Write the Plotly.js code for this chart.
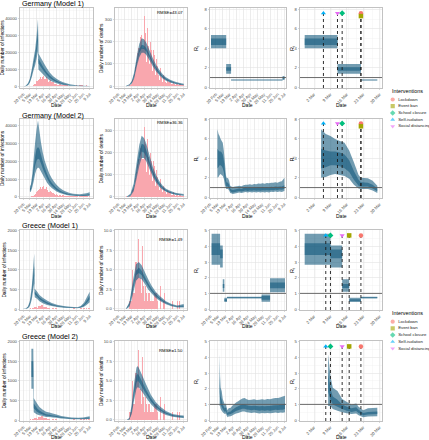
<!DOCTYPE html>
<html><head><meta charset="utf-8">
<script src="https://cdn.plot.ly/plotly-3.0.1.min.js"></script>
<style>html,body{margin:0;padding:0;background:#fff}#chart{width:429px;height:440px}</style>
</head><body><div id="chart"></div>
<script>
// ---------------- DATA ----------------
const longTickDates = ['2020-02-20','2020-03-05','2020-03-19','2020-04-02','2020-04-16','2020-04-30','2020-05-14','2020-05-28','2020-06-11','2020-06-25','2020-07-09'];
const longTickLabels = ['20 Feb','5 Mar','19 Mar','2 Apr','16 Apr','30 Apr','14 May','28 May','11 Jun','25 Jun','9 Jul'];
const shortTickDates = ['2020-03-02','2020-03-09','2020-03-16','2020-03-23','2020-03-30'];
const shortTickLabels = ['2 Mar','9 Mar','16 Mar','23 Mar','30 Mar'];

const rowTitles = ['Germany (Model 1)','Germany (Model 2)','Greece (Model 1)','Greece (Model 2)'];
const rmseLabels = ['RMSE=43.07','RMSE=36.36','RMSE=1.49','RMSE=1.50'];

const interventions = ['Lockdown','Event ban','School closure','Self-isolation','Social distancing'];
const deInterventionDates = ['2020-03-22','2020-03-22','2020-03-14','2020-03-06','2020-03-12'];
const grInterventionDates = ['2020-03-22','2020-03-17','2020-03-09','2020-03-07','2020-03-14'];

// observed daily cases / deaths
const deCasesStart = '2020-03-01';
const deCases = [60,40,50,80,110,150,200,250,180,300,
 400,600,800,900,1100,1300,1500,1800,2900,3500,
 3200,3400,4000,4800,4500,5000,5800,6200,4400,4500,5500,
 6100,6200,6300,5900,4400,3800,4300,5200,5400,5300,
 4100,3100,2600,2200,3000,3600,3500,3300,2500,1800,
 1900,2300,2400,2300,1900,1400,1100,1300,1600,1500,
 1600,1000,800,700,700,1100,1300,1200,1200,700,
 600,900,900,800,900,600,580,340,510,790,
 710,460,640,430,290,430,360,350,740,400,290,
 280,210,340,240,400,500,300,200,300,350,
 500,550,400,200,200,350,500,600,800,700,
 600,500,500,600,600,450,400,300,300,450,
 400,500,450,400,300,200,300,400,450];
const deDeathsStart = '2020-03-09';
const deDeaths = [2,0,1,3,1,2,4,4,5,10,12,20,
 30,18,28,34,49,55,60,85,45,110,130,
 150,145,170,170,170,180,200,220,250,230,
 280,170,130,170,310,315,250,240,180,110,
 190,280,260,220,180,140,100,200,200,150,
 160,90,70,60,160,160,140,110,100,50,
 60,120,110,90,80,50,40,30,80,80,
 70,40,40,30,20,40,50,30,40,30,20,
 10,15,30,30,25,20,10,8,20,25,
 20,15,10,5,10,15,20,15,10,5,
 5,10,15,10,10,8,5,5,10,10,
 10,8,5,5,3,5,8,5,5];
const grCasesStart = '2020-02-26';
const grCases = [1,2,0,1,
 0,0,3,0,2,37,0,6,7,16,
 10,18,27,38,62,10,55,31,46,77,
 34,94,71,48,74,71,78,75,95,64,102,
 54,49,60,129,62,20,62,56,43,25,
 20,19,15,9,22,20,12,51,13,21,
 156,16,10,22,13,11,15,17,13,15,
 12,10,8,6,10,6,12,9,12,6,
 5,16,10,9,13,10,4,14,3,8,
 9,7,3,6,11,6,10,10,9,12,8,
 6,14,6,9,14,7,20,5,10,5,
 6,15,10,12,4,2,9,7,14,33,
 97,27,13,10,23,20,11,24,9,5,
 14,14,15,8,17,14,20,52,30];
const grDeathsStart = '2020-03-12';
const grDeaths = [1,0,2,1,0,1,1,1,1,
 5,2,2,2,4,2,3,6,6,6,4,
 5,6,9,5,4,6,3,4,6,2,
 3,8,3,3,6,1,3,3,5,2,
 2,5,1,1,2,4,2,2,1,4,
 1,2,1,0,1,4,2,1,0,2,
 1,2,0,1,2,0,2,0,1,3,
 1,0,2,1,0,1,1,0,2,1,0,
 1,0,1,0,2,0,1,0,0,1,
 0,1,0,0,1,0,0,1,0,1,
 0,0,1,0,0,1,0,0,0,1,
 0,0,1,0,0,0,1,0,0];

// modelled series: [date, lo95, lo50, hi50, hi95]
const deM1Inf = [
 ['2020-02-20',0,0,20,60],['2020-02-25',80,150,250,380],['2020-03-01',700,1000,1400,1900],
 ['2020-03-05',2300,3000,3800,4800],['2020-03-09',5500,7000,8500,10500],['2020-03-12',9000,11000,13000,15500],
 ['2020-03-16',12500,15500,18500,22000],['2020-03-19',16500,20500,25000,30000],['2020-03-22',21000,27000,33000,40000],
 ['2020-03-23',10000,13500,16500,19500],['2020-03-28',8500,11500,14000,17000],['2020-04-02',7000,9500,11500,14500],
 ['2020-04-09',5000,7000,8500,11000],['2020-04-16',3500,5000,6300,8000],['2020-04-23',2500,3600,4600,6000],
 ['2020-04-30',1800,2600,3300,4500],['2020-05-07',1200,1800,2400,3300],['2020-05-14',800,1300,1700,2400],
 ['2020-05-28',400,600,850,1300],['2020-06-11',150,280,400,700],['2020-06-25',60,120,200,350],['2020-07-09',20,50,90,170]];
const deM1Deaths = [
 ['2020-03-08',0,0,1,2],['2020-03-15',3,5,7,9],['2020-03-20',12,16,20,25],['2020-03-25',35,44,52,62],
 ['2020-03-31',90,105,120,140],['2020-04-05',130,150,165,190],['2020-04-10',150,168,185,215],
 ['2020-04-15',150,166,182,210],['2020-04-20',140,155,170,195],['2020-04-27',115,128,140,160],
 ['2020-05-04',88,100,110,125],['2020-05-11',66,75,83,95],['2020-05-18',48,55,62,72],['2020-05-25',35,40,46,54],
 ['2020-06-01',25,29,34,40],['2020-06-11',16,19,23,28],['2020-06-21',10,13,16,20],['2020-07-01',6,8,11,14],['2020-07-09',4,6,8,11]];
// step Rt: [start, end, lo95, lo50, hi50, hi95]
const deM1Rt = [
 ['2020-02-10','2020-03-12',4.0,4.33,5.0,5.35],
 ['2020-03-12','2020-03-22',1.4,1.7,2.05,2.4],
 ['2020-03-22','2020-07-05',0.7,0.72,0.78,0.8],
 ['2020-07-05','2020-07-09',0.75,0.85,1.05,1.15]];

const deM2Inf = [
 ['2020-03-05',2600,3500,4800,6000],['2020-03-07',3000,4000,5500,7000],['2020-03-10',5500,7500,10000,13000],
 ['2020-03-13',9000,12500,16500,22000],['2020-03-16',13000,17500,23000,31000],['2020-03-19',15500,20500,27000,38000],
 ['2020-03-22',16500,21500,28000,43000],['2020-03-25',16000,21000,27000,37000],['2020-03-28',14500,19000,24000,31000],
 ['2020-04-01',12500,16000,20000,25000],['2020-04-05',10500,13500,16500,20500],['2020-04-10',8000,10500,13000,16500],
 ['2020-04-15',6300,8000,10000,13000],['2020-04-20',5000,6300,8000,10500],['2020-04-25',4000,5000,6400,8500],
 ['2020-04-30',3100,3900,5000,6800],['2020-05-07',2200,2800,3600,5000],['2020-05-14',1600,2100,2700,3700],
 ['2020-05-21',1150,1550,2050,2900],['2020-05-28',850,1150,1550,2250],['2020-06-04',650,900,1250,1850],
 ['2020-06-11',520,740,1050,1650],['2020-06-18',470,680,980,1550],['2020-06-25',470,680,1030,1750],
 ['2020-07-02',520,780,1200,2100],['2020-07-09',600,900,1450,2700]];
const deM2Deaths = [
 ['2020-03-10',0,0,1,3],['2020-03-17',3,6,9,14],['2020-03-24',25,35,45,60],['2020-03-31',90,115,135,165],
 ['2020-04-05',140,170,200,235],['2020-04-10',175,205,240,275],['2020-04-15',175,200,235,265],
 ['2020-04-20',160,180,210,240],['2020-04-27',125,140,160,185],['2020-05-04',90,102,117,135],
 ['2020-05-11',64,73,84,98],['2020-05-18',45,52,60,70],['2020-05-25',32,37,43,50],['2020-06-01',23,27,31,37],
 ['2020-06-11',15,18,21,26],['2020-06-21',10,12,15,19],['2020-07-01',7,9,11,15],['2020-07-09',5,7,9,13]];
const deM2Rt = [
 ['2020-03-05',2.0,3.0,5.0,7.0],['2020-03-07',2.1,3.1,4.8,6.5],['2020-03-09',2.3,3.3,4.7,6.3],
 ['2020-03-11',2.4,3.3,4.7,6.0],['2020-03-13',2.3,3.2,4.6,5.8],['2020-03-15',2.2,3.0,4.4,5.6],
 ['2020-03-17',1.9,2.6,3.8,4.8],['2020-03-19',1.3,1.8,2.7,3.6],['2020-03-21',0.9,1.2,1.8,2.3],
 ['2020-03-22',0.85,1.1,1.55,2.0],['2020-03-25',0.85,1.1,1.5,1.95],['2020-03-27',0.7,0.9,1.3,1.7],
 ['2020-03-29',0.45,0.62,0.9,1.2],['2020-04-01',0.38,0.52,0.78,1.08],['2020-04-03',0.35,0.5,0.75,1.05],
 ['2020-04-07',0.4,0.55,0.8,1.1],['2020-04-11',0.45,0.6,0.85,1.15],['2020-04-15',0.5,0.65,0.9,1.2],
 ['2020-04-19',0.45,0.6,0.85,1.15],['2020-04-23',0.5,0.65,0.95,1.25],['2020-04-27',0.55,0.7,1.0,1.3],
 ['2020-05-01',0.5,0.65,0.95,1.3],['2020-05-05',0.55,0.7,1.0,1.35],['2020-05-09',0.5,0.68,0.98,1.3],
 ['2020-05-13',0.55,0.72,1.02,1.38],['2020-05-17',0.5,0.68,1.0,1.35],['2020-05-21',0.55,0.7,1.05,1.42],
 ['2020-05-25',0.5,0.68,1.0,1.4],['2020-05-29',0.55,0.72,1.05,1.45],['2020-06-02',0.5,0.7,1.0,1.4],
 ['2020-06-06',0.55,0.72,1.05,1.48],['2020-06-10',0.5,0.7,1.0,1.45],['2020-06-14',0.58,0.75,1.08,1.5],
 ['2020-06-18',0.55,0.72,1.05,1.5],['2020-06-22',0.6,0.78,1.1,1.55],['2020-06-26',0.55,0.75,1.08,1.5],
 ['2020-06-30',0.6,0.8,1.12,1.6],['2020-07-04',0.55,0.78,1.1,1.65],['2020-07-09',0.65,0.85,1.25,2.0]];

const grM1Inf = [
 ['2020-02-20',0,0,2,5],['2020-02-25',3,6,10,15],['2020-03-01',20,35,50,70],['2020-03-05',80,120,160,220],
 ['2020-03-09',250,350,450,600],['2020-03-12',500,650,850,1100],['2020-03-14',650,850,1100,1420],
 ['2020-03-15',300,380,450,520],['2020-03-20',260,320,380,450],['2020-03-25',200,250,300,360],
 ['2020-04-01',150,190,235,290],['2020-04-10',105,135,170,215],['2020-04-20',75,95,120,155],
 ['2020-05-01',52,68,86,112],['2020-05-15',35,46,60,80],['2020-05-29',25,33,43,58],['2020-06-13',18,24,32,44],
 ['2020-06-20',30,42,58,80],['2020-06-27',60,85,115,160],['2020-07-03',110,160,220,300],['2020-07-09',170,250,340,440]];
const grM1Deaths = [
 ['2020-03-08',0,0,0.05,0.1],['2020-03-15',0.3,0.5,0.7,0.9],['2020-03-22',1.8,2.4,2.9,3.5],
 ['2020-03-29',3.6,4.3,4.9,5.7],['2020-04-04',4.0,4.6,5.3,6.0],['2020-04-10',3.8,4.3,4.9,5.6],
 ['2020-04-17',3.2,3.6,4.1,4.7],['2020-04-24',2.5,2.9,3.3,3.8],['2020-05-01',2.0,2.3,2.6,3.0],
 ['2020-05-10',1.45,1.65,1.9,2.2],['2020-05-20',1.0,1.15,1.35,1.6],['2020-06-01',0.6,0.72,0.85,1.0],
 ['2020-06-13',0.35,0.43,0.52,0.65],['2020-06-25',0.2,0.27,0.35,0.45],['2020-07-09',0.2,0.3,0.45,0.65]];
const grM1Rt = [
 ['2020-02-22','2020-03-09',2.83,3.45,4.2,4.8],
 ['2020-03-09','2020-03-14',2.65,3.25,3.8,4.05],
 ['2020-03-14','2020-03-17',1.1,1.35,1.6,1.9],
 ['2020-03-17','2020-03-22',0.45,0.52,0.63,0.72],
 ['2020-03-22','2020-05-26',0.68,0.71,0.76,0.79],
 ['2020-05-26','2020-06-11',0.47,0.6,0.83,0.93],
 ['2020-06-11','2020-07-09',1.07,1.33,1.7,1.97]];

const grM2Inf = [
 ['2020-03-08',800,1100,1500,1820],['2020-03-12',800,1100,1500,1820],['2020-03-13',200,300,420,560],
 ['2020-03-16',170,260,370,500],['2020-03-20',140,210,300,420],['2020-03-25',120,170,240,330],
 ['2020-04-01',100,140,190,260],['2020-04-08',80,110,150,210],['2020-04-15',75,100,135,190],
 ['2020-04-22',65,88,118,165],['2020-04-30',55,75,100,140],['2020-05-10',40,56,76,105],
 ['2020-05-20',32,44,60,85],['2020-06-01',22,32,45,65],['2020-06-15',18,26,38,55],
 ['2020-06-25',20,30,44,65],['2020-07-09',28,42,62,95]];
const grM2Deaths = [
 ['2020-03-10',0,0,0,0.05],['2020-03-15',0.05,0.1,0.2,0.3],['2020-03-20',0.8,1.2,1.6,2.1],
 ['2020-03-25',2.6,3.3,4.0,4.8],['2020-03-30',4.0,4.8,5.7,6.7],['2020-04-02',4.2,5.0,5.9,6.9],
 ['2020-04-06',4.0,4.7,5.5,6.4],['2020-04-12',3.5,4.1,4.8,5.6],['2020-04-20',2.8,3.3,3.8,4.5],
 ['2020-04-30',2.0,2.35,2.75,3.2],['2020-05-10',1.4,1.65,1.95,2.3],['2020-05-20',1.0,1.2,1.4,1.7],
 ['2020-06-01',0.65,0.8,0.95,1.15],['2020-06-15',0.42,0.52,0.63,0.78],['2020-07-01',0.3,0.38,0.48,0.6],
 ['2020-07-09',0.25,0.33,0.43,0.56]];
const grM2Rt = [
 ['2020-03-08',0.9,1.8,3.0,4.2],['2020-03-09',0.9,1.3,2.0,2.8],['2020-03-10',0.7,1.0,1.5,2.06],
 ['2020-03-12',0.6,0.85,1.3,1.85],['2020-03-14',0.5,0.7,1.0,1.35],['2020-03-16',0.43,0.6,0.85,1.15],
 ['2020-03-18',0.38,0.52,0.75,1.0],['2020-03-20',0.42,0.58,0.82,1.06],['2020-03-21',0.3,0.45,0.65,0.85],
 ['2020-03-23',0.18,0.3,0.45,0.62],['2020-03-25',0.22,0.35,0.52,0.75],['2020-03-29',0.25,0.38,0.55,0.78],
 ['2020-03-31',0.28,0.42,0.62,0.88],['2020-04-04',0.35,0.5,0.72,1.0],['2020-04-08',0.42,0.58,0.82,1.12],
 ['2020-04-12',0.45,0.62,0.88,1.2],['2020-04-16',0.5,0.68,0.95,1.3],['2020-04-20',0.55,0.72,1.0,1.38],
 ['2020-04-24',0.55,0.72,1.0,1.4],['2020-04-28',0.5,0.68,0.95,1.32],['2020-05-02',0.48,0.65,0.92,1.28],
 ['2020-05-07',0.45,0.62,0.9,1.3],['2020-05-12',0.48,0.65,0.92,1.32],['2020-05-17',0.45,0.62,0.9,1.28],
 ['2020-05-22',0.42,0.6,0.88,1.3],['2020-05-27',0.45,0.62,0.9,1.32],['2020-06-01',0.43,0.6,0.88,1.3],
 ['2020-06-06',0.45,0.62,0.9,1.35],['2020-06-11',0.43,0.6,0.9,1.33],['2020-06-16',0.45,0.63,0.93,1.38],
 ['2020-06-21',0.48,0.65,0.95,1.4],['2020-06-26',0.45,0.64,0.94,1.4],['2020-07-01',0.48,0.66,0.98,1.45],
 ['2020-07-05',0.47,0.66,1.0,1.5],['2020-07-09',0.5,0.7,1.05,1.55]];

// ---------------- STYLE / LAYOUT ----------------
const W = 429, H = 440;
const colsPx = [[20,93],[115,187],[210,286],[300,382]];
const rowsPx = [[8,88],[119,198],[230,310],[341,421]];
const longRange = ['2020-02-13','2020-07-16'];
const rtLongRanges = [['2020-02-08','2020-07-12'],['2020-02-20','2020-07-12'],['2020-02-19','2020-07-11'],['2020-02-19','2020-07-11']];
const shortRange = ['2020-02-25','2020-03-31'];
const zoomWindow = ['2020-02-27','2020-03-29'];
const bandColor = 'rgba(20,90,125,0.6)';
const barColor = '#F9A7AE';
const intColors = ['#F8766D','#A3A500','#00BF7D','#00B0F6','#E76BF3'];
const intSymbols = ['circle','square','diamond','triangle-up','triangle-down'];
const FONT = 'Liberation Sans, Arial, sans-serif';

const px2x = p => p / W, px2y = p => 1 - p / H;
const DAY = 86400000;
function addDays(iso, n){ const d = new Date(iso + 'T00:00:00Z'); d.setUTCDate(d.getUTCDate() + n); return d.toISOString().slice(0,10); }

const rowCfg = [
 {inf:deM1Inf, deaths:deM1Deaths, rtSteps:deM1Rt, cases:deCases, casesStart:deCasesStart, obsDeaths:deDeaths, obsDeathsStart:deDeathsStart, ints:deInterventionDates,
  infY:[-1000,46500,10000,'d'], deY:[-8,350,100,'d'], rtY:[-0.07,8.13,2,'d'], markTop:7.6, markStep:0.3},
 {inf:deM2Inf, deaths:deM2Deaths, rtSeries:deM2Rt, cases:deCases, casesStart:deCasesStart, obsDeaths:deDeaths, obsDeathsStart:deDeathsStart, ints:deInterventionDates,
  infY:[-600,43800,10000,'d'], deY:[-5,351,100,'d'], rtY:[-0.07,8.05,2,'d'], markTop:7.6, markStep:0.3},
 {inf:grM1Inf, deaths:grM1Deaths, rtSteps:grM1Rt, cases:grCases, casesStart:grCasesStart, obsDeaths:grDeaths, obsDeathsStart:grDeathsStart, ints:grInterventionDates,
  infY:[-25,2017,500,'d'], deY:[-0.13,10.09,2.5,'.1f'], rtY:[-0.06,5.045,1,'d'], markTop:4.7, markStep:0.2},
 {inf:grM2Inf, deaths:grM2Deaths, rtSeries:grM2Rt, cases:grCases, casesStart:grCasesStart, obsDeaths:grDeaths, obsDeathsStart:grDeathsStart, ints:grInterventionDates,
  infY:[-25,2017,500,'d'], deY:[-0.13,10.09,2.5,'.1f'], rtY:[-0.06,5.045,1,'d'], markTop:4.7, markStep:0.2}
];

const baseAxis = {showgrid:true, gridcolor:'#e2e2e2', gridwidth:0.6, showline:true, mirror:true, linecolor:'#b3b3b3', linewidth:0.8,
  ticks:'outside', ticklen:1.5, tickwidth:0.5, tickcolor:'#b3b3b3', tickfont:{size:4.2, color:'#4d4d4d', family:FONT}, zeroline:false, fixedrange:true};

const traces = [], annotations = [], shapes = [];
const layout = {width:W, height:H, margin:{l:0,r:0,t:0,b:0}, paper_bgcolor:'#fff', plot_bgcolor:'#fff', showlegend:false, bargap:0,
  font:{family:FONT, size:5, color:'#1a1a1a'}, annotations, shapes};

const yTitles = ['Daily number of infections','Daily number of deaths','R<sub>t</sub>','R<sub>t</sub>'];

function sfx(n){ return n === 1 ? '' : String(n); }
function makeAxes(r, c, xo, yo){
  const n = r*4 + c + 1, s = sfx(n);
  layout['xaxis'+s] = Object.assign({}, baseAxis, {domain:[px2x(colsPx[c][0]), px2x(colsPx[c][1])], anchor:'y'+s}, xo);
  layout['yaxis'+s] = Object.assign({}, baseAxis, {domain:[px2y(rowsPx[r][1]), px2y(rowsPx[r][0])], anchor:'x'+s}, yo);
  if (c === 0) layout['yaxis'+s].title = {text:yTitles[0], font:{size:4.8, color:'#000', family:FONT}, standoff:0};
  return ['x'+s, 'y'+s];
}
function xLong(range){ return {type:'date', range:range, tickmode:'array', tickvals:longTickDates, ticktext:longTickLabels, tickangle:-45,
  minor:{tick0:'2020-02-13', dtick:7*DAY, showgrid:true, gridcolor:'#efefef', gridwidth:0.4, ticks:''}}; }
function xShort(){ return {type:'date', range:shortRange, tickmode:'array', tickvals:shortTickDates, ticktext:shortTickLabels, tickangle:-45,
  minor:{tick0:'2020-02-24 12:00', dtick:3.5*DAY, showgrid:true, gridcolor:'#efefef', gridwidth:0.4, ticks:''}}; }
function yAx(spec){ return {range:[spec[0], spec[1]], tickmode:'linear', tick0:0, dtick:spec[2], tickformat:spec[3],
  minor:{tick0:0, dtick:spec[2]/2, showgrid:true, gridcolor:'#efefef', gridwidth:0.4, ticks:''}}; }

function bars(start, vals, xa, ya){
  return {type:'bar', x:vals.map((_,i)=>addDays(start,i)), y:vals, width:DAY, marker:{color:barColor, line:{width:0}}, hoverinfo:'skip', xaxis:xa, yaxis:ya};
}
function ribbon(tuples, xa, ya, wide){
  const d = tuples.map(t=>t[0]);
  const lo = tuples.map(t=>wide ? t[1] : t[2]);
  const hi = tuples.map(t=>wide ? t[4] : t[3]);
  return {type:'scatter', mode:'none', x:d.concat(d.slice().reverse()), y:hi.concat(lo.slice().reverse()),
    fill:'toself', fillcolor:bandColor, hoverinfo:'skip', xaxis:xa, yaxis:ya};
}
function stepRibbon(segs, xa, ya, wide, win){
  const x = [], y = [];
  segs.forEach(s=>{
    let a = s[0], b = s[1];
    if (win){ if (b <= win[0] || a >= win[1]) return; if (a < win[0]) a = win[0]; if (b > win[1]) b = win[1]; }
    const lo = wide ? s[2] : s[3], hi = wide ? s[5] : s[4];
    x.push(a,b,b,a,a,null); y.push(hi,hi,lo,lo,hi,null);
  });
  return {type:'scatter', mode:'none', x:x, y:y, fill:'toself', fillcolor:bandColor, hoverinfo:'skip', xaxis:xa, yaxis:ya};
}
function inWindow(tuples, win){ return tuples.filter(t=>t[0] >= win[0] && t[0] <= win[1]); }
function hline(xa, ya){
  shapes.push({type:'line', xref:xa+' domain', x0:0, x1:1, yref:ya, y0:1, y1:1, line:{color:'#5a5a5a', width:0.9}, layer:'above'});
}
function ann(text, xpx, ypx, size, opts){
  annotations.push(Object.assign({text:text, x:px2x(xpx), y:px2y(ypx), xref:'paper', yref:'paper', showarrow:false,
    xanchor:'center', yanchor:'middle', font:{size:size, color:'#000', family:FONT}}, opts||{}));
}

const titleY = [4, 115, 225.7, 336.7];
const dateY = [105, 215.5, 326, 436.5];
const rmseY = [13, 122, 240, 350];
const yTitleX = [6, 101, 196, 292];

rowCfg.forEach((cfg, r)=>{
  let [xa, ya] = makeAxes(r, 0, xLong(longRange), yAx(cfg.infY));
  traces.push(bars(cfg.casesStart, cfg.cases, xa, ya));
  traces.push(ribbon(cfg.inf, xa, ya, true), ribbon(cfg.inf, xa, ya, false));
  [xa, ya] = makeAxes(r, 1, xLong(longRange), yAx(cfg.deY));
  traces.push(bars(cfg.obsDeathsStart, cfg.obsDeaths, xa, ya));
  traces.push(ribbon(cfg.deaths, xa, ya, true), ribbon(cfg.deaths, xa, ya, false));
  [xa, ya] = makeAxes(r, 2, xLong(rtLongRanges[r]), yAx(cfg.rtY));
  if (cfg.rtSteps) traces.push(stepRibbon(cfg.rtSteps, xa, ya, true), stepRibbon(cfg.rtSteps, xa, ya, false));
  else traces.push(ribbon(cfg.rtSeries, xa, ya, true), ribbon(cfg.rtSeries, xa, ya, false));
  hline(xa, ya);
  [xa, ya] = makeAxes(r, 3, xShort(), yAx(cfg.rtY));
  if (cfg.rtSteps) traces.push(stepRibbon(cfg.rtSteps, xa, ya, true, zoomWindow), stepRibbon(cfg.rtSteps, xa, ya, false, zoomWindow));
  else { const sub = inWindow(cfg.rtSeries, zoomWindow); traces.push(ribbon(sub, xa, ya, true), ribbon(sub, xa, ya, false)); }
  hline(xa, ya);
  const markY = cfg.ints.map((d,i)=> cfg.markTop - cfg.markStep * cfg.ints.slice(0,i).filter(e=>e===d).length);
  const lx = [], ly = [];
  cfg.ints.forEach((d,i)=>{ lx.push(d,d,null); ly.push(cfg.rtY[0], markY[i], null); });
  traces.push({type:'scatter', mode:'lines', x:lx, y:ly, line:{color:'#1a1a1a', width:0.9, dash:'dot'}, hoverinfo:'skip', xaxis:xa, yaxis:ya});
  traces.push({type:'scatter', mode:'markers', x:cfg.ints, y:markY, marker:{color:intColors, symbol:intSymbols, size:4.5, line:{width:0}}, hoverinfo:'skip', xaxis:xa, yaxis:ya});

  ann(rowTitles[r], 20, titleY[r], 7.2, {xanchor:'left'});
  ann(rmseLabels[r], 185, rmseY[r], 4.3, {xanchor:'right'});
  for (let c=0;c<4;c++){
    ann('Date', (colsPx[c][0]+colsPx[c][1])/2, dateY[r], 5);
    if (c > 0) ann(yTitles[c], yTitleX[c], (rowsPx[r][0]+rowsPx[r][1])/2, c>=2 ? 5.5 : 4.8, {textangle:-90});
  }
});

function legendBlock(axisNum, titlePx, firstItemPx){
  const s = String(axisNum), spacing = 6.7, topPx = firstItemPx - 4, botPx = firstItemPx + spacing*4 + 4;
  layout['xaxis'+s] = {domain:[px2x(388), 1], range:[-(392.7-388), W-392.7], visible:false, fixedrange:true, anchor:'y'+s};
  layout['yaxis'+s] = {domain:[px2y(botPx), px2y(topPx)], range:[(botPx-firstItemPx)/spacing, -(firstItemPx-topPx)/spacing], visible:false, fixedrange:true, anchor:'x'+s};
  const idx = interventions.map((_,i)=>i);
  traces.push({type:'scatter', mode:'markers', x:idx.map(()=>0), y:idx, marker:{color:intColors, symbol:intSymbols, size:4.2, opacity:0.6, line:{width:0}}, hoverinfo:'skip', xaxis:'x'+s, yaxis:'y'+s});
  traces.push({type:'scatter', mode:'text', x:idx.map(()=>5.5), y:idx, text:interventions, textposition:'middle right', textfont:{size:4.3, color:'#1a1a1a', family:FONT}, hoverinfo:'skip', xaxis:'x'+s, yaxis:'y'+s});
  ann('Interventions', 390, titlePx, 5.4, {xanchor:'left'});
}
legendBlock(17, 90.7, 99.5);
legendBlock(18, 313.3, 321.7);

Plotly.newPlot('chart', traces, layout, {displayModeBar:false, staticPlot:true});
</script></body></html>
